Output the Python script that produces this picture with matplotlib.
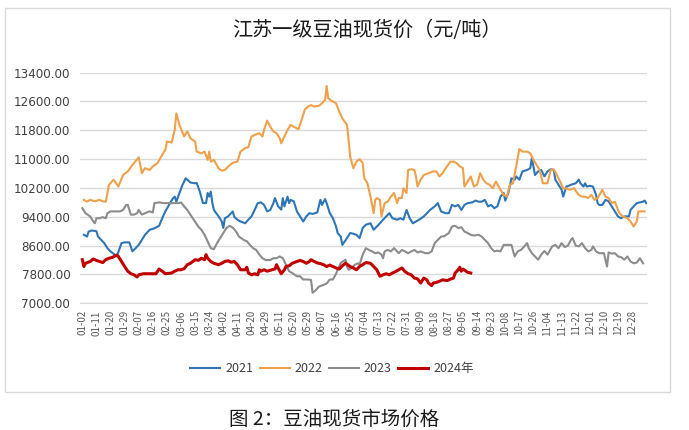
import numpy as np
import matplotlib
matplotlib.use("Agg")
import matplotlib.pyplot as plt
from matplotlib.patches import Rectangle

plt.rcParams['font.family'] = ['Noto Sans CJK SC', 'DejaVu Sans']

# x axis: category positions (one per trading day), a label every 9 categories
x_labels = ["01-02", "01-11", "01-20", "01-29", "02-07", "02-16", "02-25", "03-06",
            "03-15", "03-24", "04-02", "04-11", "04-20", "04-29", "05-11", "05-20",
            "05-29", "06-07", "06-16", "06-25", "07-04", "07-13", "07-22", "07-31",
            "08-09", "08-18", "08-27", "09-05", "09-14", "09-23", "10-08", "10-17",
            "10-26", "11-04", "11-13", "11-22", "12-01", "12-10", "12-19", "12-28"]
label_step = 9

# (category position, price)
s2021 = [(1, 8900), (3, 8850), (4, 8990), (6, 9020), (9, 9000), (10, 8850), (12, 8760), (14, 8670),
         (16, 8530), (18, 8440), (20, 8370), (22, 8300), (25, 8670), (27, 8690), (30, 8690), (32, 8440),
         (34, 8530), (36, 8620), (38, 8760), (40, 8900), (43, 9040), (46, 9080), (49, 9150), (51, 9360),
         (53, 9550), (56, 9780), (58, 9920), (59, 9960), (60, 9820), (62, 10060), (64, 10290), (66, 10470),
         (67, 10430), (69, 10350), (72, 10330), (73, 10340), (75, 10100), (77, 9780), (79, 9780), (80, 10060),
         (81, 9960), (82, 10100), (83, 9780), (84, 9590), (87, 9410), (89, 9270), (90, 9090), (91, 9360),
         (93, 9410), (95, 9500), (96, 9550), (97, 9400), (99, 9320), (101, 9270), (104, 9220), (106, 9320),
         (108, 9410), (110, 9590), (112, 9780), (114, 9800), (116, 9730), (118, 9550), (120, 9590), (122, 9780),
         (123, 9920), (125, 9690), (127, 9600), (128, 9920), (129, 9690), (131, 9960), (132, 9780), (133, 9870),
         (135, 9830), (137, 9550), (139, 9410), (141, 9270), (143, 9410), (145, 9500), (147, 9480), (150, 9520),
         (152, 9870), (153, 9730), (155, 9890), (156, 9780), (158, 9500), (160, 9360), (162, 9130), (163, 8950),
         (165, 8850), (166, 8620), (169, 8810), (171, 8950), (173, 8930), (175, 8900), (177, 8810), (179, 9090),
         (181, 9180), (184, 9220), (186, 9040), (188, 9130), (190, 9220), (192, 9320), (194, 9410), (196, 9500),
         (198, 9360), (201, 9320), (203, 9360), (205, 9320), (207, 9590), (209, 9360), (211, 9220), (213, 9270),
         (215, 9320), (218, 9410), (220, 9500), (222, 9590), (225, 9690), (227, 9780), (229, 9550), (232, 9500),
         (234, 9500), (236, 9730), (238, 9690), (240, 9730), (242, 9590), (244, 9730), (246, 9780), (249, 9800),
         (251, 9850), (253, 9820), (255, 9820), (257, 9870), (259, 9690), (261, 9730), (263, 9640), (265, 9690),
         (267, 9960), (269, 10060), (270, 9850), (272, 10060), (274, 10470), (276, 10430), (277, 10520), (279, 10430),
         (281, 10660), (284, 10700), (286, 10750), (287, 11030), (288, 10800), (289, 10560), (291, 10660), (293, 10700),
         (295, 10520), (297, 10660), (299, 10720), (301, 10700), (302, 10430), (304, 10290), (306, 10150), (307, 9960),
         (309, 10240), (310, 10250), (312, 10290), (315, 10330), (317, 10430), (318, 10330), (320, 10240), (321, 10330),
         (322, 10240), (324, 10260), (326, 10240), (328, 10010), (329, 9780), (330, 9730), (332, 9730), (334, 9870),
         (336, 9830), (338, 9690), (340, 9550), (342, 9410), (344, 9360), (346, 9410), (349, 9410), (350, 9590),
         (352, 9690), (354, 9780), (356, 9800), (358, 9820), (359, 9850), (360, 9780)]

s2022 = [(1, 9870), (3, 9820), (5, 9870), (8, 9830), (11, 9870), (13, 9830), (15, 9820), (17, 10290),
         (20, 10430), (23, 10240), (26, 10560), (29, 10660), (32, 10840), (36, 11050), (38, 10610), (40, 10750),
         (43, 10700), (45, 10800), (48, 10890), (51, 11120), (53, 11260), (54, 11490), (57, 11460), (59, 11810),
         (60, 12270), (62, 11950), (65, 11630), (67, 11770), (69, 11580), (72, 11490), (73, 11210), (76, 11160),
         (78, 11210), (80, 10980), (81, 11210), (82, 10930), (84, 10980), (87, 10740), (89, 10680), (91, 10700),
         (93, 10790), (96, 10900), (99, 10930), (101, 11210), (104, 11310), (106, 11330), (108, 11630), (110, 11670),
         (113, 11720), (115, 11630), (116, 11810), (118, 12070), (120, 11900), (122, 11770), (124, 11720), (126, 11580),
         (127, 11440), (129, 11630), (131, 11810), (133, 11950), (135, 11900), (138, 11830), (140, 12090), (142, 12370),
         (144, 12460), (146, 12500), (148, 12460), (151, 12480), (153, 12550), (155, 12640), (156, 13030), (157, 12690),
         (159, 12620), (162, 12550), (164, 12320), (166, 12130), (169, 11950), (170, 11530), (171, 11070), (173, 10750),
         (175, 10930), (177, 11000), (179, 10890), (180, 10470), (182, 10330), (184, 9960), (186, 9500), (187, 9870),
         (188, 9920), (190, 9870), (191, 9410), (193, 9780), (195, 9820), (197, 9960), (199, 10060), (201, 9780),
         (202, 9920), (204, 9920), (205, 10190), (207, 10060), (208, 10700), (210, 10720), (212, 10700), (213, 10520),
         (214, 10240), (216, 10430), (218, 10560), (221, 10610), (224, 10660), (226, 10660), (228, 10520), (230, 10610),
         (232, 10750), (235, 10930), (237, 10930), (239, 10890), (241, 10800), (243, 10750), (244, 10240), (246, 10380),
         (248, 10520), (250, 10240), (252, 10290), (254, 10610), (256, 10430), (258, 10330), (260, 10290), (262, 10190),
         (264, 10380), (267, 10150), (269, 10010), (271, 9960), (273, 10290), (275, 10330), (277, 10800), (279, 11280),
         (281, 11210), (284, 11210), (286, 11160), (288, 10980), (290, 10840), (292, 10700), (294, 10330), (297, 10330),
         (299, 10700), (301, 10720), (303, 10560), (305, 10380), (307, 10190), (309, 10190), (311, 10150), (314, 10190),
         (316, 10060), (317, 10010), (319, 9960), (321, 9960), (323, 9920), (325, 10010), (327, 9870), (329, 9920),
         (332, 10150), (334, 9960), (336, 9920), (338, 9780), (340, 9820), (342, 9590), (343, 9500), (345, 9410),
         (348, 9360), (350, 9270), (352, 9130), (354, 9270), (355, 9550), (357, 9550), (359, 9550)]

s2023 = [(0, 9640), (2, 9500), (5, 9410), (7, 9270), (8, 9220), (9, 9360), (11, 9360), (13, 9390),
         (15, 9360), (16, 9500), (18, 9550), (22, 9550), (24, 9550), (26, 9590), (28, 9730), (29, 9730),
         (31, 9460), (33, 9460), (35, 9500), (36, 9590), (38, 9460), (41, 9520), (43, 9550), (45, 9520),
         (46, 9780), (49, 9800), (52, 9780), (57, 9780), (60, 9780), (62, 9780), (63, 9800), (65, 9690),
         (67, 9590), (69, 9460), (72, 9270), (74, 9130), (76, 9040), (78, 8900), (80, 8720), (82, 8530),
         (84, 8500), (86, 8670), (88, 8810), (90, 8950), (92, 9090), (94, 9150), (96, 9100), (98, 9000),
         (100, 8850), (103, 8760), (105, 8720), (107, 8620), (109, 8530), (111, 8480), (113, 8350), (115, 8250),
         (117, 8200), (120, 8200), (122, 8250), (124, 8250), (126, 8300), (128, 8250), (130, 8070), (132, 7890),
         (134, 7840), (137, 7750), (139, 7750), (141, 7660), (144, 7660), (146, 7650), (147, 7290), (149, 7360),
         (151, 7460), (154, 7510), (156, 7550), (158, 7660), (160, 7660), (162, 7820), (163, 7930), (165, 8120),
         (168, 8210), (169, 8020), (170, 7930), (172, 7980), (174, 8070), (176, 8110), (177, 8070), (178, 8210),
         (179, 8350), (181, 8530), (183, 8480), (185, 8440), (187, 8390), (189, 8410), (191, 8350), (192, 8250),
         (193, 8440), (195, 8480), (197, 8440), (199, 8530), (202, 8390), (204, 8480), (206, 8440), (208, 8390),
         (210, 8440), (212, 8480), (214, 8410), (216, 8440), (219, 8390), (221, 8390), (223, 8440), (225, 8670),
         (227, 8760), (229, 8850), (231, 8860), (234, 8950), (236, 9130), (238, 9150), (240, 9090), (242, 9110),
         (244, 8990), (246, 8950), (248, 8900), (250, 8880), (253, 8900), (255, 8850), (257, 8760), (259, 8670),
         (261, 8530), (263, 8440), (265, 8460), (267, 8440), (269, 8620), (272, 8620), (274, 8620), (276, 8300),
         (278, 8440), (280, 8480), (282, 8570), (284, 8670), (285, 8530), (287, 8390), (289, 8300), (291, 8210),
         (293, 8350), (295, 8450), (297, 8350), (300, 8580), (302, 8620), (304, 8530), (306, 8670), (308, 8560),
         (310, 8600), (312, 8760), (313, 8810), (315, 8600), (317, 8580), (319, 8670), (321, 8530), (323, 8440),
         (325, 8480), (326, 8580), (328, 8440), (330, 8390), (333, 8390), (335, 8020), (336, 8410), (338, 8380),
         (340, 8390), (342, 8300), (344, 8280), (346, 8210), (348, 8300), (350, 8160), (352, 8110), (354, 8130),
         (356, 8250), (358, 8110)]

s2024 = [(0, 8210), (1, 8020), (2, 8110), (5, 8160), (7, 8230), (9, 8190), (11, 8160), (13, 8130),
         (15, 8210), (17, 8250), (19, 8270), (22, 8340), (23, 8300), (25, 8160), (27, 8020), (29, 7890),
         (31, 7820), (33, 7790), (35, 7730), (36, 7790), (39, 7820), (42, 7820), (45, 7820), (47, 7820),
         (49, 7950), (51, 7890), (53, 7820), (57, 7840), (59, 7890), (61, 7930), (63, 7930), (65, 7960),
         (67, 8070), (69, 8110), (72, 8210), (74, 8190), (76, 8250), (78, 8210), (79, 8350), (80, 8250),
         (82, 8160), (84, 8110), (87, 8070), (89, 8110), (91, 8160), (93, 8180), (95, 8140), (97, 8160),
         (99, 8070), (101, 7930), (104, 7930), (105, 8000), (106, 7840), (108, 7790), (110, 7820), (112, 7790),
         (113, 7930), (114, 7890), (116, 7930), (118, 7890), (121, 7930), (123, 7950), (124, 8070), (125, 7980),
         (127, 7820), (129, 7930), (130, 8020), (132, 8040), (134, 8110), (137, 8160), (139, 8190), (141, 8160),
         (143, 8110), (145, 8160), (146, 8210), (148, 8160), (150, 8120), (152, 8100), (154, 8070), (156, 8020),
         (158, 8060), (160, 8020), (162, 7980), (164, 7950), (166, 8040), (168, 8110), (171, 8020), (173, 7980),
         (175, 7930), (177, 8020), (179, 8070), (181, 8130), (184, 8110), (186, 8020), (188, 7930), (190, 7750),
         (192, 7790), (194, 7820), (196, 7790), (198, 7840), (200, 7880), (202, 7930), (204, 7980), (206, 7880),
         (208, 7820), (210, 7790), (212, 7700), (214, 7680), (216, 7560), (218, 7700), (220, 7650), (221, 7560),
         (223, 7490), (224, 7560), (226, 7580), (228, 7610), (230, 7650), (233, 7630), (235, 7670), (237, 7700),
         (238, 7840), (240, 7930), (241, 8000), (242, 7890), (243, 7950), (245, 7890), (246, 7860), (248, 7840)]

series = [("2021", s2021, "#2e75b6", 1.5),
          ("2022", s2022, "#f0a04b", 1.5),
          ("2023", s2023, "#8c8c8c", 1.5),
          ("2024年", s2024, "#c00000", 2.2)]

fig = plt.figure(figsize=(6.89, 4.30), dpi=100)
ax = fig.add_axes([0.1161, 0.2947, 0.8229, 0.5363])

for name, pts, color, lw in series:
    d, v = zip(*pts)
    ax.plot(d, v, color=color, lw=lw, label=name)

yt = np.arange(7000, 13401, 800)
ax.set_ylim(7000, 13400)
ax.set_yticks(yt)
ax.set_yticklabels([f"{v:.2f}" for v in yt], fontsize=8.6, color="#404040",
                   family="DejaVu Sans")
ax.set_xlim(-1.5, 360.5)
ax.set_xticks(np.arange(len(x_labels)) * label_step)
ax.set_xticklabels(x_labels, rotation=90, fontsize=7, color="#595959")
ax.tick_params(length=0, pad=5)
ax.tick_params(axis="y", pad=7)
ax.grid(axis="y", color="#d9d9d9", lw=1)
ax.set_axisbelow(True)
for s in ["top", "right", "left"]:
    ax.spines[s].set_visible(False)
ax.spines["bottom"].set_color("#d9d9d9")

fig.text(0.533, 0.93, "江苏一级豆油现货价（元/吨）", ha="center", va="center",
         fontsize=14.5, color="#1a1a1a")

fig.legend(loc="center", bbox_to_anchor=(0.482, 0.142), ncol=4, frameon=False,
           fontsize=9, handlelength=2.4, columnspacing=0.5, handletextpad=0.4,
           labelcolor="#404040")

# outer frame
fig.patches.append(Rectangle((5 / 689, 1 - 392 / 430), 665 / 689, 384 / 430,
                             transform=fig.transFigure, fill=False,
                             edgecolor="#d9d9d9", lw=1))

fig.text(0.485, 0.025, "图 2：豆油现货市场价格", ha="center", va="center",
         fontsize=14, color="#1a1a1a")

fig.savefig("out.png", dpi=100)
